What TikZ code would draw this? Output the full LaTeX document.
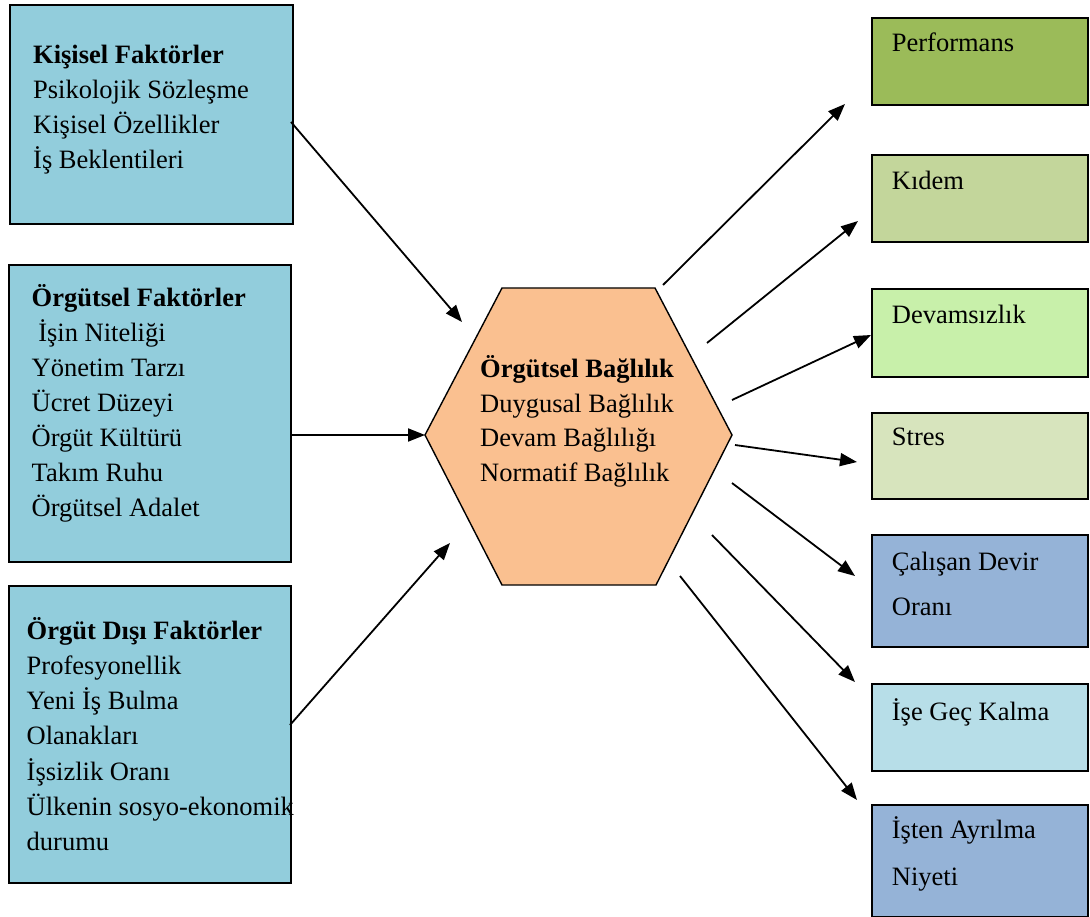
\documentclass[tikz,border=0pt]{standalone}
\usepackage{fontspec}
\setmainfont{Liberation Serif}
\usetikzlibrary{arrows.meta}
\definecolor{leftblue}{HTML}{92CDDC}
\definecolor{hexfill}{HTML}{FAC090}
\definecolor{cperf}{HTML}{9BBB59}
\definecolor{ckidem}{HTML}{C3D69B}
\definecolor{cdevam}{HTML}{C8F0AA}
\definecolor{cstres}{HTML}{D7E4BD}
\definecolor{cblue}{HTML}{95B3D7}
\definecolor{clight}{HTML}{B7DEE8}
\tikzset{
  box/.style={draw=black, line width=2pt, anchor=north west, inner sep=0pt},
  txt/.style={anchor=base west, inner sep=0pt, align=left, font=\fontsize{26.5}{35}\selectfont},
  arr/.style={line width=1.8pt, -{Triangle[length=17pt,width=13pt]}}
}
\begin{document}
\begin{tikzpicture}[x=1pt,y=-1pt]
\useasboundingbox (0,0) rectangle (1090,917);
% left boxes (text nodes anchored at the baseline of their last line)
\node[box, fill=leftblue, minimum width=283pt, minimum height=219pt] (k) at (9,4) {};
\node[txt] (kt) at (33,169) {\textbf{Kişisel Faktörler}\\Psikolojik Sözleşme\\Kişisel Özellikler\\İş Beklentileri};
\node[box, fill=leftblue, minimum width=282pt, minimum height=297pt] (o) at (7.5,264) {};
\node[txt] (ot) at (31.5,516.7) {\textbf{Örgütsel Faktörler}\\\ İşin Niteliği\\Yönetim Tarzı\\Ücret Düzeyi\\Örgüt Kültürü\\Takım Ruhu\\Örgütsel Adalet};
\node[box, fill=leftblue, minimum width=282pt, minimum height=297pt] (d) at (7.5,585) {};
\node[txt, font=\fontsize{26.5}{35.2}\selectfont] (dt) at (26.5,850.5) {\textbf{Örgüt Dışı Faktörler}\\Profesyonellik\\Yeni İş Bulma\\Olanakları\\İşsizlik Oranı\\Ülkenin sosyo-ekonomik\\durumu};
% hexagon
\coordinate (hL) at (425,435);
\coordinate (hTL) at (502,288);
\coordinate (hTR) at (655,288);
\coordinate (hR) at (732,435);
\coordinate (hBR) at (656,585);
\coordinate (hBL) at (502,585);
\draw[line width=1.4pt, fill=hexfill] (hL) -- (hTL) -- (hTR) -- (hR) -- (hBR) -- (hBL) -- cycle;
\node[txt, font=\fontsize{26.5}{34.7}\selectfont] (ht) at (480,481.4) {\textbf{Örgütsel Bağlılık}\\Duygusal Bağlılık\\Devam Bağlılığı\\Normatif Bağlılık};
% right boxes
\node[box, fill=cperf, minimum width=215.5pt, minimum height=87pt] (r1) at (871,17) {};
\node[txt] (r1t) at (891.7,51.7) {Performans};
\node[box, fill=ckidem, minimum width=215.5pt, minimum height=87pt] (r2) at (871,154) {};
\node[txt] (r2t) at (891.7,189.3) {Kıdem};
\node[box, fill=cdevam, minimum width=215.5pt, minimum height=88pt] (r3) at (871,288) {};
\node[txt] (r3t) at (891.7,323.3) {Devamsızlık};
\node[box, fill=cstres, minimum width=215.5pt, minimum height=86pt] (r4) at (871,412) {};
\node[txt] (r4t) at (891.7,445) {Stres};
\node[box, fill=cblue, minimum width=215.5pt, minimum height=112pt] (r5) at (871,534) {};
\node[txt, font=\fontsize{26.5}{45}\selectfont] (r5t) at (891.7,615) {Çalışan Devir\\Oranı};
\node[box, fill=clight, minimum width=215.5pt, minimum height=87pt] (r6) at (871,683) {};
\node[txt] (r6t) at (891.7,720) {İşe Geç Kalma};
\node[box, fill=cblue, minimum width=215.5pt, minimum height=112pt] (r7) at (871,803.5) {};
\node[txt, font=\fontsize{26.5}{46.7}\selectfont] (r7t) at (891.7,885) {İşten Ayrılma\\Niyeti};
% arrow endpoints
\coordinate (a1s) at (291,122);  \coordinate (a1e) at (462,322);
\coordinate (a2s) at (290,435);  \coordinate (a2e) at (425,435);
\coordinate (a3s) at (290,725);  \coordinate (a3e) at (450,543);
\coordinate (b1s) at (663,285);  \coordinate (b1e) at (845,104);
\coordinate (b2s) at (707,343);  \coordinate (b2e) at (858,221);
\coordinate (b3s) at (732,400);  \coordinate (b3e) at (871,335);
\coordinate (b4s) at (735,445);  \coordinate (b4e) at (857,462);
\coordinate (b5s) at (732,483);  \coordinate (b5e) at (855,576);
\coordinate (b6s) at (712,535);  \coordinate (b6e) at (855,682);
\coordinate (b7s) at (680,576);  \coordinate (b7e) at (857,800);
\foreach \s/\e in {a1s/a1e,a2s/a2e,a3s/a3e,b1s/b1e,b2s/b2e,b3s/b3e,b4s/b4e,b5s/b5e,b6s/b6e,b7s/b7e}
  \draw[arr] (\s) -- (\e);
\end{tikzpicture}
\end{document}
